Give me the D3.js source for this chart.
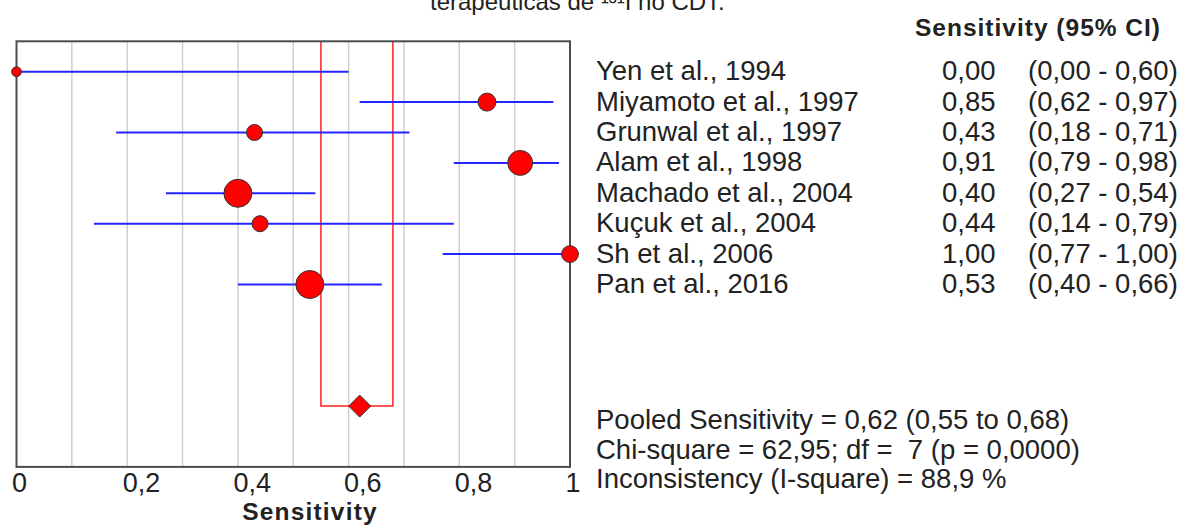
<!DOCTYPE html>
<html>
<head>
<meta charset="utf-8">
<script src="https://cdn.jsdelivr.net/npm/d3@7"></script>
<style>
  body { margin: 0; background: #fff; }
  svg { display: block; font-family: "Liberation Sans", Arial, sans-serif; }
</style>
</head>
<body>
<svg id="chart" width="1186" height="529"></svg>
<script>
// study data
const studies = ["Yen et al., 1994", "Miyamoto et al., 1997", "Grunwal et al., 1997", "Alam et al., 1998",
  "Machado et al., 2004", "Kuçuk et al., 2004", "Sh et al., 2006", "Pan et al., 2016"];
const sens  = [0.00, 0.85, 0.43, 0.91, 0.40, 0.44, 1.00, 0.53];
const lower = [0.00, 0.62, 0.18, 0.79, 0.27, 0.14, 0.77, 0.40];
const upper = [0.60, 0.97, 0.71, 0.98, 0.54, 0.79, 1.00, 0.66];
const weights = [7, 24, 19, 46, 58, 19, 21, 58];   // relative study weights (marker size)
const pooled = [0.62, 0.55, 0.68];
const xTicks = [0, 0.2, 0.4, 0.6, 0.8, 1];
const gridTicks = [0.1, 0.2, 0.3, 0.4, 0.5, 0.6, 0.7, 0.8, 0.9];
const statLines = ["Pooled Sensitivity = 0,62 (0,55 to 0,68)",
  "Chi-square = 62,95; df =  7 (p = 0,0000)",
  "Inconsistency (I-square) = 88,9 %"];

const fmt = v => d3.format(".2f")(v).replace(".", ",");
const svg = d3.select("#chart");

const x = d3.scaleLinear().domain([0, 1]).range([16.5, 570]);
const y = d3.scaleLinear().domain([-1, 13]).range([41.3, 466.9]);   // row index -> y
const r = d3.scaleSqrt().domain([0, 58]).range([0, 14]);
const pooledRow = 11;

// cut-off title line at the very top
svg.append("text")
  .attr("x", 430).attr("y", 10)
  .style("font-size", "24px").attr("fill", "#222")
  .text("terapêuticas de ¹³¹I no CDT.");

// grid
svg.append("g").selectAll("line")
  .data(gridTicks)
  .enter().append("line")
  .attr("x1", d => x(d)).attr("x2", d => x(d))
  .attr("y1", y(-1)).attr("y2", y(13))
  .attr("stroke", "#cfcfcf").attr("stroke-width", 1.5);

// pooled CI outline (red)
svg.append("path")
  .attr("d", `M${x(pooled[1])},${y(-1)}V${y(pooledRow)}H${x(pooled[2])}V${y(-1)}`)
  .attr("fill", "none").attr("stroke", "#ff2020").attr("stroke-width", 1.5);

// frame
svg.append("rect")
  .attr("x", x(0)).attr("y", y(-1))
  .attr("width", x(1) - x(0)).attr("height", y(13) - y(-1))
  .attr("fill", "none").attr("stroke", "#4d4d4d").attr("stroke-width", 2);

// x axis
const xAxis = svg.append("g")
  .attr("transform", `translate(0,${y(13)})`)
  .call(d3.axisBottom(x).tickValues(xTicks).tickSize(0).tickFormat(d => String(d).replace(".", ",")));
xAxis.select(".domain").remove();
xAxis.selectAll("text")
  .attr("y", 25).attr("dy", 0).attr("dx", -5)
  .attr("text-anchor", "start")
  .style("font-size", "27px").style("font-family", "'Liberation Sans', Arial, sans-serif")
  .attr("fill", "#222");

svg.append("text")
  .attr("x", 310).attr("y", 520)
  .attr("text-anchor", "middle")
  .style("font-size", "24.5px").style("font-weight", "bold").style("letter-spacing", "1.2px")
  .attr("fill", "#222")
  .text("Sensitivity");

// CI lines
const rows = d3.range(studies.length);
svg.append("g").selectAll("line")
  .data(rows)
  .enter().append("line")
  .attr("x1", i => x(lower[i])).attr("x2", i => x(upper[i]))
  .attr("y1", i => y(i)).attr("y2", i => y(i))
  .attr("stroke", "#2424ff").attr("stroke-width", 2);

// point estimates
svg.append("g").selectAll("circle")
  .data(rows)
  .enter().append("circle")
  .attr("cx", i => x(sens[i])).attr("cy", i => y(i))
  .attr("r", i => r(weights[i]))
  .attr("fill", "#ff0000").attr("stroke", "#333").attr("stroke-width", 1);

// pooled diamond
const dw = 11, dh = 11;
svg.append("path")
  .attr("d", `M${x(pooled[0]) - dw},${y(pooledRow)}L${x(pooled[0])},${y(pooledRow) - dh}L${x(pooled[0]) + dw},${y(pooledRow)}L${x(pooled[0])},${y(pooledRow) + dh}Z`)
  .attr("fill", "#ff0000").attr("stroke", "#333").attr("stroke-width", 1);

// right-hand table
const tbl = svg.append("g").style("font-size", "27.5px").attr("fill", "#222");
svg.append("text")
  .attr("x", 915).attr("y", 36)
  .style("font-size", "24.5px").style("font-weight", "bold").style("letter-spacing", "1px")
  .attr("fill", "#222")
  .text("Sensitivity (95% CI)");

tbl.selectAll(".name").data(rows).enter().append("text")
  .attr("class", "name")
  .attr("x", 596).attr("y", i => y(i) + 8.5)
  .text(i => studies[i]);
tbl.selectAll(".val").data(rows).enter().append("text")
  .attr("class", "val")
  .attr("x", 942).attr("y", i => y(i) + 8.5)
  .text(i => fmt(sens[i]));
tbl.selectAll(".ci").data(rows).enter().append("text")
  .attr("class", "ci")
  .attr("x", 1028).attr("y", i => y(i) + 8.5)
  .text(i => `(${fmt(lower[i])} - ${fmt(upper[i])})`);

const statOffsets = [23, 53, 82];
tbl.selectAll(".stat").data(statLines).enter().append("text")
  .attr("class", "stat")
  .attr("x", 596).attr("y", (d, k) => y(pooledRow) + statOffsets[k])
  .attr("xml:space", "preserve")
  .text(d => d);
</script>
</body>
</html>
